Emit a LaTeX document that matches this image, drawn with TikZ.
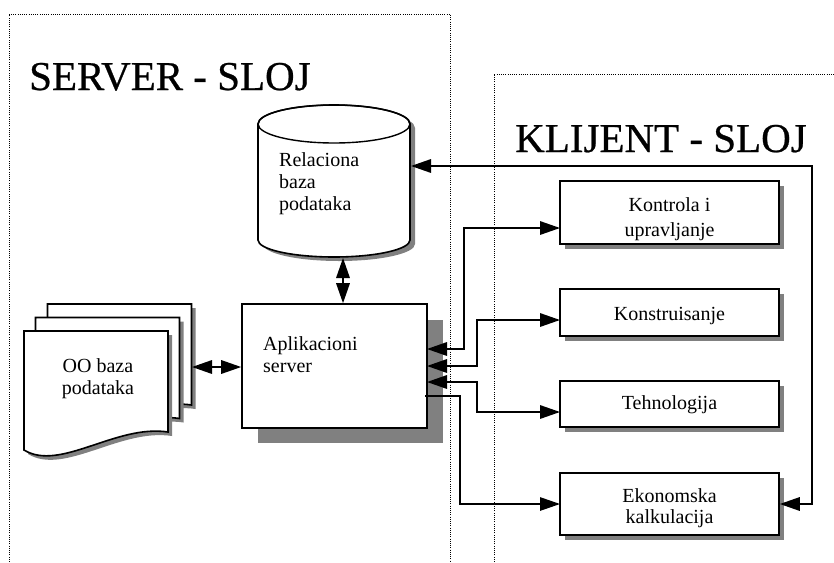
\documentclass[tikz,border=0pt]{standalone}
\usepackage{fontspec}
\setmainfont{Liberation Serif}
\newfontfamily\headfont[FakeBold=0.6]{Liberation Serif}
\usetikzlibrary{arrows.meta,calc}

\begin{document}
\begin{tikzpicture}[x=1pt,y=-1pt,
  zone/.style={line width=0.9pt, dash pattern=on 1pt off 1.2pt},
  title/.style={font=\headfont\fontsize{41}{43}\selectfont, inner sep=0pt},
  txt/.style={font=\fontsize{20}{22}\selectfont, inner sep=0pt, align=left},
  client/.style={draw, line width=1.6pt, fill=white, minimum width=219pt,
    align=center, font=\fontsize{20}{24}\selectfont,
    preaction={fill=gray, transform canvas={shift={(5pt,-5pt)}}}},
  link/.style={line width=1.6pt},
  tip/.style={-{Triangle[length=20pt,width=13.5pt]}},
  both/.style={{Triangle[length=20pt,width=13.5pt]}-{Triangle[length=20pt,width=13.5pt]}},
  page/.style={draw, line width=1.6pt, fill=white},
]
\useasboundingbox (0,0) rectangle (834,562);

% layer zones
\draw[zone] (9,562) |- (450,14) -- (450,562);
\draw[zone] (494,562) |- (834,74);
\node[title, anchor=base west] (srvT) at (29,90) {SERVER - SLOJ};
\node[title, anchor=base west] (cliT) at (515,152) {KLIJENT - SLOJ};

% relational database (cylinder)
\begin{scope}[shift={(5,4)}]
  \fill[gray] (258,124) -- (258,240) arc[start angle=180,end angle=0,x radius=76,y radius=17]
    -- (410,124) arc[start angle=0,end angle=-180,x radius=76,y radius=19] -- cycle;
\end{scope}
\draw[line width=1.6pt, fill=white] (258,124) -- (258,240)
  arc[start angle=180,end angle=0,x radius=76,y radius=17]
  -- (410,124) arc[start angle=0,end angle=-180,x radius=76,y radius=19] -- cycle;
\draw[line width=1.4pt] (334,124) ellipse [x radius=76, y radius=19];
\node[txt, anchor=north west] (dbT) at (279,152) {Relaciona\\baza\\podataka};
\coordinate (dbR) at (411,166);
\coordinate (dbB) at (343,258);

% application server
\fill[gray] (258,320) rectangle (443,443);
\node[draw, line width=1.6pt, fill=white, minimum width=185pt, minimum height=124pt]
  (app) at (334.5,366) {};
\node[txt, anchor=north west] (appT) at (263,336) {Aplikacioni\\server};

% OO database (stack of documents)
\newcommand\docpage[1]{%
  \begin{scope}[shift={(#1)}]
    \fill[gray] (28,335) -- (172,335) -- (172,436)
      .. controls (120,428) and (64,476) .. (28,454) -- cycle;
    \draw[page] (24,331) -- (168,331) -- (168,432)
      .. controls (116,424) and (60,472) .. (24,450) -- cycle;
  \end{scope}}
\docpage{23.5,-27}
\docpage{11.5,-13.5}
\docpage{0,0}
\node[txt, align=center] (ooT) at (98,379) {OO baza\\podataka};
\coordinate (ooR) at (192,367);

% client modules
\node[client, minimum height=61pt, font=\fontsize{20}{25}\selectfont] (kon) at (669.5,212.5)
  {\rule{0pt}{27pt}Kontrola i\\upravljanje};
\node[client, minimum height=47pt] (kst) at (669.5,312.5) {\rule{0pt}{20pt}Konstruisanje};
\node[client, minimum height=46pt] (teh) at (669.5,404) {\rule{0pt}{16pt}Tehnologija};
\node[client, minimum height=62pt, font=\fontsize{20}{21}\selectfont] (eko) at (669.5,504)
  {\rule{0pt}{23pt}Ekonomska\\kalkulacija};

% connection points
\coordinate (a1) at (427,349);
\coordinate (a2) at (427,366);
\coordinate (a3) at (427,382);
\coordinate (a4) at (425,396);
\coordinate (k1) at (560,228);
\coordinate (k2) at (560,320);
\coordinate (k3) at (560,412);
\coordinate (k4) at (560,504);
\coordinate (bus) at (812,166);

% connectors
\draw[link, both] (ooR) -- (app.west |- ooR);
\draw[link, both] (dbB) -- (dbB |- app.north);
\draw[link, both] (dbR) -- (bus) |- (eko.east);
\draw[link, both] (a1) -- (464,349) |- (k1);
\draw[link, both] (a2) -- (477,366) |- (k2);
\draw[link, both] (a3) -- (477,382) |- (k3);
\draw[line width=1.2pt, tip] (a4) -- (460,396) |- (k4);
\end{tikzpicture}
\end{document}
